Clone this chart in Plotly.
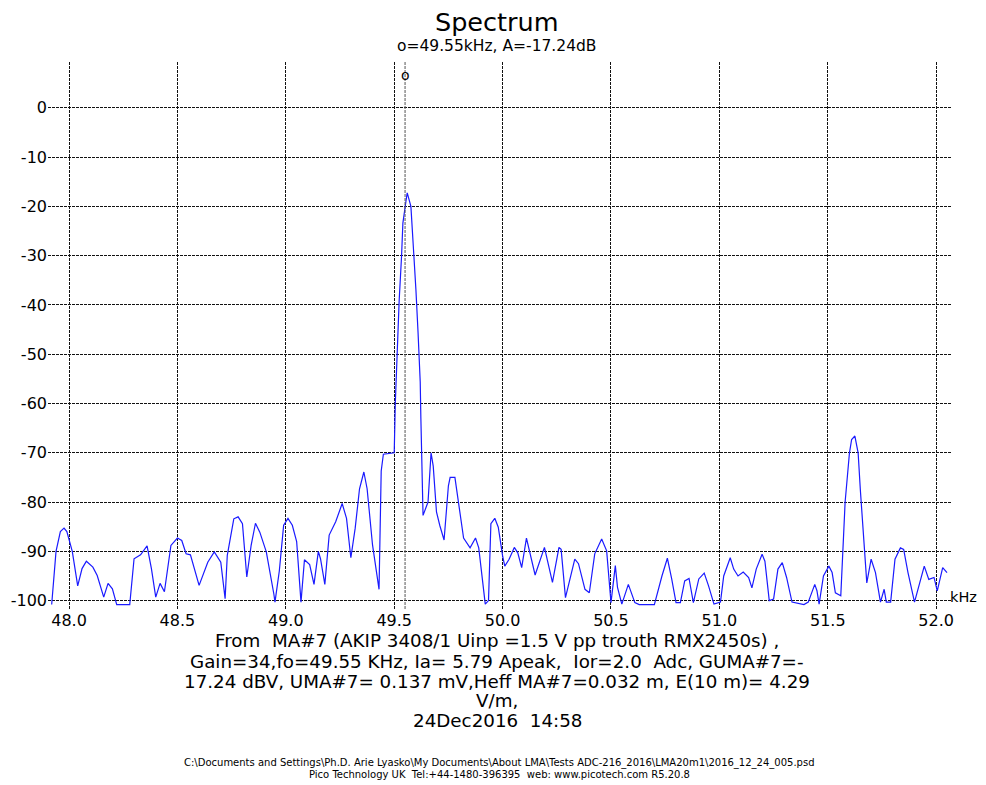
import plotly.graph_objects as go

# ---------------- data ----------------
freq_khz = [
    47.92, 47.93, 47.94, 47.96, 47.977, 47.99, 48.015, 48.04, 48.06, 48.08,
    48.11, 48.13, 48.16, 48.18, 48.20, 48.22, 48.28, 48.30, 48.33, 48.36,
    48.38, 48.40, 48.42, 48.44, 48.46, 48.47, 48.50, 48.52, 48.54, 48.56,
    48.60, 48.64, 48.67, 48.70, 48.72, 48.73, 48.76, 48.78, 48.80, 48.82,
    48.84, 48.86, 48.88, 48.91, 48.945, 48.95, 48.97, 48.99, 49.01, 49.03,
    49.05, 49.07, 49.086, 49.11, 49.13, 49.15, 49.16, 49.18, 49.20, 49.23,
    49.26, 49.28, 49.30, 49.32, 49.34, 49.36, 49.375, 49.40, 49.43, 49.44,
    49.45, 49.50, 49.505, 49.515, 49.523, 49.534, 49.54, 49.554, 49.56, 49.577,
    49.59, 49.60, 49.61, 49.62, 49.623, 49.628, 49.633, 49.656, 49.67, 49.68,
    49.695, 49.71, 49.73, 49.75, 49.758, 49.78, 49.795, 49.82, 49.85, 49.875,
    49.89, 49.906, 49.92, 49.935, 49.946, 49.964, 49.98, 50.00, 50.01, 50.03,
    50.054, 50.07, 50.088, 50.11, 50.12, 50.15, 50.193, 50.23, 50.26, 50.27,
    50.29, 50.333, 50.35, 50.38, 50.40, 50.425, 50.457, 50.48, 50.50, 50.52,
    50.53, 50.55, 50.58, 50.61, 50.63, 50.70, 50.735, 50.76, 50.78, 50.80,
    50.82, 50.84, 50.86, 50.88, 50.905, 50.93, 50.95, 50.975, 51.005, 51.02,
    51.05, 51.066, 51.086, 51.11, 51.135, 51.15, 51.17, 51.197, 51.21, 51.23,
    51.25, 51.27, 51.29, 51.31, 51.335, 51.36, 51.39, 51.41, 51.44, 51.45,
    51.46, 51.48, 51.505, 51.52, 51.535, 51.56, 51.57, 51.58, 51.60, 51.61,
    51.625, 51.64, 51.65, 51.67, 51.68, 51.70, 51.72, 51.743, 51.76, 51.77,
    51.79, 51.81, 51.835, 51.85, 51.87, 51.90, 51.92, 51.945, 51.966, 51.99,
    52.005, 52.03, 52.05,
]
amp_db = [
    -100.8, -96.0, -90.0, -86.0, -85.3, -86.0, -90.0, -97.0, -93.5, -92.0,
    -93.2, -94.9, -99.3, -96.5, -97.6, -100.8, -100.8, -91.5, -90.7, -88.9,
    -93.5, -99.3, -96.5, -98.2, -91.5, -88.8, -87.3, -87.8, -90.5, -90.7,
    -96.9, -92.2, -90.1, -92.2, -99.6, -90.8, -83.4, -83.0, -84.4, -95.2,
    -88.8, -84.3, -86.1, -90.1, -98.7, -100.3, -94.0, -84.7, -83.3, -84.7,
    -88.0, -100.3, -91.7, -92.7, -96.7, -90.0, -91.5, -96.7, -86.7, -84.0,
    -80.3, -83.3, -91.3, -85.3, -77.3, -73.9, -77.3, -88.7, -97.7, -73.7,
    -70.3, -70.0, -60.0, -47.0, -39.0, -30.0, -23.4, -19.0, -17.24, -20.0,
    -28.8, -36.8, -45.6, -55.6, -63.0, -74.0, -82.7, -80.0, -70.0, -72.7,
    -82.0, -84.7, -87.7, -76.7, -75.0, -75.0, -79.3, -87.3, -89.3, -87.3,
    -89.3, -95.3, -100.7, -100.0, -84.4, -83.3, -85.1, -90.9, -93.0, -91.6,
    -89.2, -90.3, -93.3, -87.3, -89.3, -94.8, -89.2, -96.3, -89.2, -89.6,
    -99.4, -91.6, -92.5, -97.7, -98.4, -90.5, -87.5, -89.9, -100.4, -92.9,
    -97.3, -100.7, -96.7, -100.4, -100.8, -100.8, -95.0, -91.4, -95.6, -100.4,
    -100.4, -96.0, -95.5, -100.4, -95.6, -94.4, -97.0, -100.7, -100.3, -95.0,
    -91.3, -93.6, -95.0, -94.2, -95.3, -97.4, -93.6, -90.6, -92.0, -100.0,
    -99.7, -93.6, -92.3, -95.3, -100.3, -100.5, -100.8, -100.3, -96.7, -98.0,
    -100.7, -95.0, -93.0, -94.3, -98.4, -99.0, -90.0, -80.0, -70.0, -67.3,
    -66.6, -70.0, -77.4, -89.6, -96.4, -91.6, -94.3, -100.3, -97.7, -100.3,
    -100.3, -91.6, -89.3, -89.6, -94.3, -100.3, -97.0, -93.0, -95.7, -95.3,
    -98.0, -93.3, -94.3,
]
x_tick_vals = [48.0, 48.5, 49.0, 49.5, 50.0, 50.5, 51.0, 51.5, 52.0]
y_tick_vals = [0, -10, -20, -30, -40, -50, -60, -70, -80, -90, -100]
y_tick_labels = ["0", "-10", "-20", "-30", "-40", "-50", "-60", "-70", "-80", "-90", "-100"]
marker_freq = 49.55

title_text = "Spectrum"
subtitle_text = "o=49.55kHz, A=-17.24dB"
info_lines = [
    "From  MA#7 (AKIP 3408/1 Uinp =1.5 V pp trouth RMX2450s) ,",
    "Gain=34,fo=49.55 KHz, Ia= 5.79 Apeak,  Ior=2.0  Adc, GUMA#7=-",
    "17.24 dBV, UMA#7= 0.137 mV,Heff MA#7=0.032 m, E(10 m)= 4.29",
    "V/m,",
    "24Dec2016  14:58",
]
footer_lines = [
    "C:\\Documents and Settings\\Ph.D. Arie Lyasko\\My Documents\\About LMA\\Tests ADC-216_2016\\LMA20m1\\2016_12_24_005.psd",
    "Pico Technology UK  Tel:+44-1480-396395  web: www.picotech.com R5.20.8",
]

# ---------------- figure ----------------
FONT = "DejaVu Sans, Liberation Sans, Arial, sans-serif"
fig = go.Figure()
fig.add_trace(go.Scatter(x=freq_khz, y=amp_db, mode="lines",
                         line=dict(color="#1a1aff", width=1.2),
                         hoverinfo="skip", showlegend=False))

GRID_DASH = "3px,1px"
fig.add_shape(type="line", xref="x", yref="paper", x0=marker_freq, x1=marker_freq,
              y0=0, y1=1, line=dict(color="#555555", width=1, dash=GRID_DASH))

# page geometry (page body has an 8px margin)
PLOT_L, PLOT_R, PLOT_T, PLOT_B = 48.0, 952.0, 62.0, 609.0
PLOT_W = PLOT_R - PLOT_L
PLOT_H = PLOT_B - PLOT_T


def py(pix):
    return (PLOT_B - pix) / PLOT_H


def px(pix):
    return (pix - PLOT_L) / PLOT_W


def note(text, xp, yp, size, xref="paper"):
    return dict(text=text, x=xp, y=py(yp), xref=xref, yref="paper",
                showarrow=False, font=dict(size=size, color="black", family=FONT),
                xanchor="center", yanchor="middle")


ann = [
    note(title_text, px(497), 22, 25.5),
    note(subtitle_text, px(497), 46, 15.5),
    note("o", marker_freq, 75, 14, xref="x"),
    note("kHz", px(964), 597, 14.5),
]
info_y = [640, 661, 681, 700, 720]
for t, yy in zip(info_lines, info_y):
    ann.append(note(t, px(497), yy, 18.3))
foot_y = [763, 774]
for t, yy in zip(footer_lines, foot_y):
    ann.append(note(t, px(499), yy, 10))

FIG_W, FIG_H = 978, 777
fig.update_layout(
    width=FIG_W, height=FIG_H,
    margin=dict(l=int(PLOT_L - 8), r=int(FIG_W - (PLOT_R - 8)),
                t=int(PLOT_T - 8), b=int(FIG_H - (PLOT_B - 8)), pad=0, autoexpand=False),
    paper_bgcolor="white", plot_bgcolor="white",
    font=dict(family=FONT, size=16, color="black"),
    annotations=ann,
    showlegend=False,
)
fig.update_xaxes(range=[47.903, 52.073], tickvals=x_tick_vals, tickformat=".1f",
                 showgrid=True, gridcolor="#111111", gridwidth=1, griddash=GRID_DASH,
                 zeroline=False, showline=False, ticks="", automargin=False,
                 tickfont=dict(size=16, family=FONT, color="black"))
fig.update_yaxes(range=[-101.7, 9.3], tickvals=y_tick_vals, ticktext=y_tick_labels,
                 showgrid=True, gridcolor="#111111", gridwidth=1, griddash=GRID_DASH,
                 zeroline=False, showline=False, ticks="", automargin=False,
                 tickfont=dict(size=16, family=FONT, color="black"))

fig.write_html("out.html")
